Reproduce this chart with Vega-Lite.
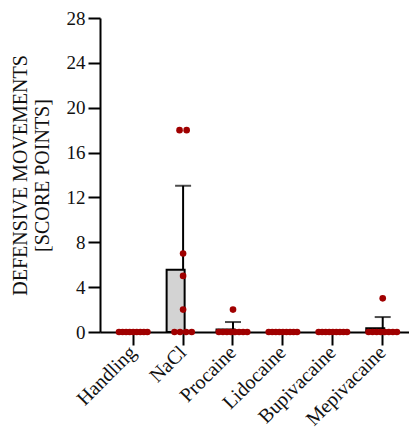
{
  "$schema": "https://vega.github.io/schema/vega-lite/v6.json",
  "autosize": {"type": "none"},
  "padding": {"left": 100, "top": 18, "right": 0, "bottom": 101},
  "width": 309,
  "height": 314,
  "background": "white",
  "config": {"view": {"stroke": null}, "font": "Liberation Serif", "axis": {"grid": false}},
  "data": {"values": [
    {"group": "Handling", "value": 0, "slot": -28},
    {"group": "Handling", "value": 0, "slot": -21},
    {"group": "Handling", "value": 0, "slot": -14},
    {"group": "Handling", "value": 0, "slot": -7},
    {"group": "Handling", "value": 0, "slot": 0},
    {"group": "Handling", "value": 0, "slot": 7},
    {"group": "Handling", "value": 0, "slot": 14},
    {"group": "Handling", "value": 0, "slot": 21},
    {"group": "Handling", "value": 0, "slot": 28},
    {"group": "NaCl", "value": 18, "slot": -7},
    {"group": "NaCl", "value": 18, "slot": 7},
    {"group": "NaCl", "value": 7, "slot": 0},
    {"group": "NaCl", "value": 5, "slot": 0},
    {"group": "NaCl", "value": 2, "slot": 0},
    {"group": "NaCl", "value": 0, "slot": -17},
    {"group": "NaCl", "value": 0, "slot": -6},
    {"group": "NaCl", "value": 0, "slot": 6},
    {"group": "NaCl", "value": 0, "slot": 17},
    {"group": "Procaine", "value": 2, "slot": 0},
    {"group": "Procaine", "value": 0, "slot": -28},
    {"group": "Procaine", "value": 0, "slot": -20},
    {"group": "Procaine", "value": 0, "slot": -12},
    {"group": "Procaine", "value": 0, "slot": -4},
    {"group": "Procaine", "value": 0, "slot": 4},
    {"group": "Procaine", "value": 0, "slot": 12},
    {"group": "Procaine", "value": 0, "slot": 20},
    {"group": "Procaine", "value": 0, "slot": 28},
    {"group": "Lidocaine", "value": 0, "slot": -28},
    {"group": "Lidocaine", "value": 0, "slot": -21},
    {"group": "Lidocaine", "value": 0, "slot": -14},
    {"group": "Lidocaine", "value": 0, "slot": -7},
    {"group": "Lidocaine", "value": 0, "slot": 0},
    {"group": "Lidocaine", "value": 0, "slot": 7},
    {"group": "Lidocaine", "value": 0, "slot": 14},
    {"group": "Lidocaine", "value": 0, "slot": 21},
    {"group": "Lidocaine", "value": 0, "slot": 28},
    {"group": "Bupivacaine", "value": 0, "slot": -28},
    {"group": "Bupivacaine", "value": 0, "slot": -21},
    {"group": "Bupivacaine", "value": 0, "slot": -14},
    {"group": "Bupivacaine", "value": 0, "slot": -7},
    {"group": "Bupivacaine", "value": 0, "slot": 0},
    {"group": "Bupivacaine", "value": 0, "slot": 7},
    {"group": "Bupivacaine", "value": 0, "slot": 14},
    {"group": "Bupivacaine", "value": 0, "slot": 21},
    {"group": "Bupivacaine", "value": 0, "slot": 28},
    {"group": "Mepivacaine", "value": 3, "slot": 0},
    {"group": "Mepivacaine", "value": 0, "slot": -28},
    {"group": "Mepivacaine", "value": 0, "slot": -20},
    {"group": "Mepivacaine", "value": 0, "slot": -12},
    {"group": "Mepivacaine", "value": 0, "slot": -4},
    {"group": "Mepivacaine", "value": 0, "slot": 4},
    {"group": "Mepivacaine", "value": 0, "slot": 12},
    {"group": "Mepivacaine", "value": 0, "slot": 20},
    {"group": "Mepivacaine", "value": 0, "slot": 28}
  ]},
  "encoding": {
    "x": {
      "field": "group",
      "type": "nominal",
      "sort": ["Handling", "NaCl", "Procaine", "Lidocaine", "Bupivacaine", "Mepivacaine"],
      "scale": {"paddingInner": 0.34, "paddingOuter": 0.266, "align": 0.63},
      "axis": {
        "title": null,
        "labelAngle": -45,
        "labelAlign": "right",
        "labelBaseline": "middle",
        "labelFontSize": 20,
        "labelFont": "Liberation Serif",
        "labelColor": "#111111",
        "labelPadding": 4,
        "tickSize": 13,
        "tickColor": "black",
        "tickWidth": 2,
        "domainColor": "black",
        "domainWidth": 2
      }
    }
  },
  "layer": [
    {
      "mark": {
        "type": "errorbar",
        "extent": "stdev",
        "color": "black",
        "ticks": {"size": 16, "color": "black", "thickness": 2},
        "rule": {"strokeWidth": 2, "color": "black"}
      },
      "encoding": {
        "y": {
          "field": "value",
          "type": "quantitative",
          "scale": {"domain": [0, 28], "clamp": true, "nice": false},
          "title": ["DEFENSIVE MOVEMENTS", "[SCORE POINTS]"]
        }
      }
    },
    {
      "mark": {"type": "bar", "fill": "#d3d3d3", "stroke": "black", "strokeWidth": 2},
      "encoding": {
        "y": {
          "aggregate": "mean",
          "field": "value",
          "type": "quantitative",
          "scale": {"domain": [0, 28], "clamp": true, "nice": false},
          "title": ["DEFENSIVE MOVEMENTS", "[SCORE POINTS]"],
          "axis": {
            "values": [0, 4, 8, 12, 16, 20, 24, 28],
            "titleFontSize": 20,
            "titleFontWeight": "normal",
            "titleFont": "Liberation Serif",
            "titleColor": "#111111",
            "titlePadding": 14,
            "labelFontSize": 19,
            "labelFont": "Liberation Serif",
            "labelColor": "#111111",
            "labelPadding": 3,
            "tickSize": 12,
            "tickColor": "black",
            "tickWidth": 2,
            "domainColor": "black",
            "domainWidth": 2
          }
        }
      }
    },
    {
      "mark": {"type": "point", "filled": true, "size": 44, "color": "#a00000", "opacity": 1},
      "encoding": {
        "y": {
          "field": "value",
          "type": "quantitative",
          "scale": {"domain": [0, 28], "clamp": true, "nice": false},
          "title": ["DEFENSIVE MOVEMENTS", "[SCORE POINTS]"]
        },
        "xOffset": {
          "field": "slot",
          "type": "ordinal",
          "scale": {
            "type": "point",
            "padding": 0.5,
            "domain": [-32,-31,-30,-29,-28,-27,-26,-25,-24,-23,-22,-21,-20,-19,-18,-17,-16,-15,-14,-13,-12,-11,-10,-9,-8,-7,-6,-5,-4,-3,-2,-1,0,1,2,3,4,5,6,7,8,9,10,11,12,13,14,15,16,17,18,19,20,21,22,23,24,25,26,27,28,29,30,31,32]
          }
        }
      }
    }
  ]
}
